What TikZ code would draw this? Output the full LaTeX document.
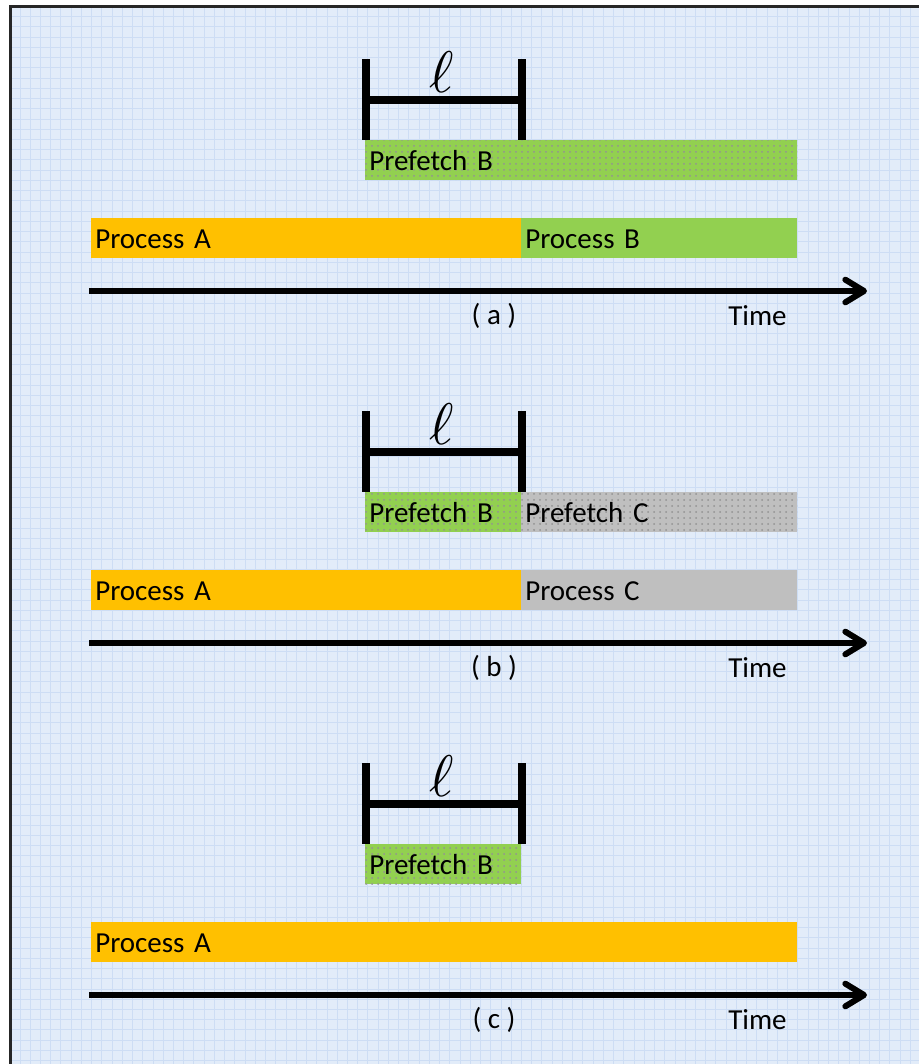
\documentclass[tikz,border=0pt]{standalone}
\usepackage{fontspec}
\setmainfont{Carlito}
\usetikzlibrary{arrows.meta,patterns.meta}
\definecolor{bgblue}{RGB}{226,236,249}
\definecolor{gridblue}{RGB}{205,221,244}
\definecolor{orangeA}{RGB}{255,192,0}
\definecolor{greenB}{RGB}{146,208,80}
\definecolor{greyC}{RGB}{191,191,191}
\definecolor{dotc}{RGB}{110,110,110}
\tikzset{
  bar/.style={rectangle, anchor=north west, inner xsep=3pt, inner ysep=0pt,
    minimum height=30pt, text height=15pt, text depth=0pt, align=left,
    font=\fontsize{21.75}{24}\selectfont},
  procA/.style={bar, fill=orangeA},
  procB/.style={bar, fill=greenB},
  procC/.style={bar, fill=greyC},
  dotted pattern/.style={postaction={pattern={Dots[distance=4.5pt,radius=0.75pt]}, pattern color=dotc!75}},
  fetchB/.style={procB, dotted pattern},
  fetchC/.style={procC, dotted pattern},
  brk/.style={line width=5.5pt, black},
  axis/.style={line width=4.5pt, black, -{Straight Barb[length=14pt,width=17pt,round]}},
  lbl/.style={inner sep=0pt, font=\fontsize{21.75}{24}\selectfont},
  ellnode/.style={scale=4.4, inner sep=0pt},
  gridline/.style={gridblue, line width=0.75pt},
}
\begin{document}
\begin{tikzpicture}[x=0.75pt,y=-0.75pt]
\useasboundingbox (0,0) rectangle (919,1064);
% background
\fill[bgblue] (10,6) rectangle (919,1064);
\foreach \i in {0,...,87} \draw[gridline] ({20+\i*10.235},6) -- ({20+\i*10.235},1064);
\foreach \i in {0,...,102} \draw[gridline] (10,{16.7+\i*10.235}) -- (919,{16.7+\i*10.235});
\draw[line width=1.6pt, black!85] (10.5,1070) -- (10.5,6.5) -- (925,6.5);

% ---------- (a) ----------
\coordinate (a-l1) at (366,59); \coordinate (a-l2) at (366,140);
\coordinate (a-r1) at (522,59); \coordinate (a-r2) at (522,140);
\coordinate (a-h1) at (366,100); \coordinate (a-h2) at (522,100);
\draw[brk] (a-l1) -- (a-l2);
\draw[brk] (a-r1) -- (a-r2);
\draw[brk] (a-h1) -- (a-h2);
\node[ellnode] (a-ell) at (442,72) {$\ell$};
\node[fetchB, text width=318pt] (a-pfB) at (365,140) {Prefetch B};
\node[procA, text width=316.5pt] (a-pA) at (91,218) {Process A};
\node[procB, text width=201pt] (a-pB) at (521,218) {Process B};
\coordinate (a-t0) at (89,291); \coordinate (a-t1) at (867,291);
\draw[axis] (a-t0) -- (a-t1);
\node[lbl, anchor=base] (a-cap) at (494,324) {( a )};
\node[lbl, anchor=base west] (a-time) at (728,325) {Time};

% ---------- (b) ----------
\begin{scope}[yshift=-264pt]
\coordinate (b-l1) at (366,59); \coordinate (b-l2) at (366,140);
\coordinate (b-r1) at (522,59); \coordinate (b-r2) at (522,140);
\coordinate (b-h1) at (366,100); \coordinate (b-h2) at (522,100);
\draw[brk] (b-l1) -- (b-l2);
\draw[brk] (b-r1) -- (b-r2);
\draw[brk] (b-h1) -- (b-h2);
\node[ellnode] (b-ell) at (442,72) {$\ell$};
\node[fetchB, text width=111pt] (b-pfB) at (365,140) {Prefetch B};
\node[fetchC, text width=201pt] (b-pfC) at (521,140) {Prefetch C};
\node[procA, text width=316.5pt] (b-pA) at (91,218) {Process A};
\node[procC, text width=201pt] (b-pC) at (521,218) {Process C};
\coordinate (b-t0) at (89,291); \coordinate (b-t1) at (867,291);
\draw[axis] (b-t0) -- (b-t1);
\node[lbl, anchor=base] (b-cap) at (494,324) {( b )};
\node[lbl, anchor=base west] (b-time) at (728,325) {Time};
\end{scope}

% ---------- (c) ----------
\begin{scope}[yshift=-528pt]
\coordinate (c-l1) at (366,59); \coordinate (c-l2) at (366,140);
\coordinate (c-r1) at (522,59); \coordinate (c-r2) at (522,140);
\coordinate (c-h1) at (366,100); \coordinate (c-h2) at (522,100);
\draw[brk] (c-l1) -- (c-l2);
\draw[brk] (c-r1) -- (c-r2);
\draw[brk] (c-h1) -- (c-h2);
\node[ellnode] (c-ell) at (442,72) {$\ell$};
\node[fetchB, text width=111pt] (c-pfB) at (365,140) {Prefetch B};
\node[procA, text width=523.5pt] (c-pA) at (91,218) {Process A};
\coordinate (c-t0) at (89,291); \coordinate (c-t1) at (867,291);
\draw[axis] (c-t0) -- (c-t1);
\node[lbl, anchor=base] (c-cap) at (494,324) {( c )};
\node[lbl, anchor=base west] (c-time) at (728,325) {Time};
\end{scope}
\end{tikzpicture}
\end{document}
